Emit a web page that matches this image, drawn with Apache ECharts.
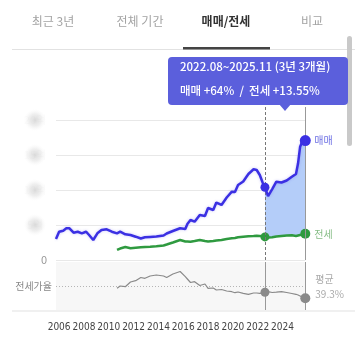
<!DOCTYPE html>
<html><head><meta charset="utf-8">
<script src="https://cdn.jsdelivr.net/npm/echarts@6/dist/echarts.min.js"></script>
<style>html,body{margin:0;padding:0;background:#fff}#c{width:364px;height:343px}</style>
</head><body><div id="c"></div>
<script>
// ---- data ----
const months = ['2005.10','2006.01','2006.05','2006.08','2006.11','2007.03','2007.07','2007.11','2008.03','2008.06',
  '2008.10','2009.02','2009.06','2009.11','2010.04','2010.09','2010.12','2011.05','2011.10','2012.03',
  '2012.08','2012.12','2013.05','2013.11','2014.06','2014.09','2015.03','2015.10','2016.03','2016.05',
  '2016.08','2016.12','2017.05','2017.10','2018.01','2018.06','2018.09','2019.02','2019.07','2019.12',
  '2020.03','2020.06','2020.11','2021.04','2021.09','2021.12','2022.03','2022.06','2022.08','2022.11',
  '2023.03','2023.07','2023.12','2024.05','2024.10','2025.02','2025.04','2025.06','2025.08','2025.11'];
// 매매 (sale price)
const saleValues = [3.0,4.04,4.19,4.53,4.53,3.9,4.04,3.81,4.04,3.57,
  2.86,3.81,4.29,4.39,4.04,3.81,4.04,3.67,3.57,3.33,
  3.07,3.24,3.3,3.36,3.5,3.79,4.14,4.53,4.43,5.14,
  5.71,5.47,6.43,6.29,7.43,7.14,8.21,7.86,8.93,9.76,
  9.71,10.71,11.21,12.29,12.96,12.86,12.14,10.96,10.4,9.14,
  10.14,11.19,11.07,11.36,11.9,12.29,13.81,16.19,16.9,17.06];
// 전세 (jeonse price)
const jeonseValues = [null,null,null,null,null,null,null,null,null,null,
  null,null,null,null,null,1.43,1.64,1.86,1.67,1.74,
  1.81,1.86,1.9,1.96,2.07,2.21,2.5,2.86,2.64,2.64,
  2.61,2.71,2.86,2.71,2.64,2.71,2.79,2.86,3.0,3.1,
  3.14,3.24,3.33,3.4,3.43,3.46,3.43,3.39,3.3,3.21,
  3.24,3.36,3.43,3.5,3.53,3.43,3.5,3.57,3.6,3.75];
// 전세가율 (%)
const ratioValues = [null,null,null,null,null,null,null,null,null,null,
  null,null,null,null,null,37.7,40,39.3,44,45.3,
  48.5,47.7,50,51,50,48.5,52,54.5,49.3,47,
  43.5,44.3,40.5,42,37.7,38,36,36.5,35,34.3,
  33.3,34,32.7,31.7,33,33,32.7,33,33.7,34.3,
  33.5,33.8,34.3,33.5,32.5,31.7,31,30,29,27.7];
const avgRatio = 39.3;
const tabLabels = ['최근 3년','전체 기간','매매/전세','비교'];
const activeTab = 2;
const yearTicks = [2006,2008,2010,2012,2014,2016,2018,2020,2022,2024];
const yTicks = [0,5,10,15,20];
const yTickLabels = ['0','5억','10억','15억','20억'];
const rangeStart = '2022.08', rangeEnd = '2025.11';
const tooltipLines = ['2022.08~2025.11 (3년 3개월)', '매매 +64%  /  전세 +13.55%'];
const seriesNames = ['매매','전세','전세가율'];

// ---- build ----
const toYear = s => { const p = s.split('.').map(Number); return p[0] + (p[1]-1)/12; };
const xs = months.map(toYear);
const iStart = months.indexOf(rangeStart), iEnd = months.indexOf(rangeEnd);
const xStartSel = xs[iStart], xEndSel = xs[iEnd];
const pairs = arr => xs.map((x,i)=> arr[i]==null ? null : [x, arr[i]]).filter(v=>v);
const sizeFn = (big, small) => (v) => {
  const x = v[0];
  if (Math.abs(x - xEndSel) < 1e-6) return big;
  if (Math.abs(x - xStartSel) < 1e-6) return small;
  return 0;
};
const bandData = [];
for (let i = iStart; i <= iEnd; i++) bandData.push([xs[i], saleValues[i], jeonseValues[i]]);

const KR = "'Noto Sans CJK KR','Noto Sans',sans-serif";
const NARROW = "'DejaVu Sans Condensed','Liberation Sans',sans-serif";
const xMin = xs[0], xMax = xs[xs.length-1];
const upperTop = 107, upperBottomPx = 260, gridValTopPx = 120;
const yTop = yTicks[yTicks.length-1];
const yMaxUpper = yTop * (upperBottomPx - upperTop) / (upperBottomPx - gridValTopPx);

const chart = echarts.init(document.getElementById('c'), null, {renderer:'canvas'});
const tabCenters = [53,140,226,312];
const graphics = [];
tabLabels.forEach((t,i)=>{
  graphics.push({type:'text', x:tabCenters[i], y:21, z:10, style:{text:t, align:'center', verticalAlign:'middle',
    font: (i===activeTab ? 'bold ' : '') + '12px ' + KR, fill: i===activeTab ? '#333' : '#a3a3a3'}});
});
graphics.push({type:'rect', z:9, shape:{x:12,y:49,width:343,height:1}, style:{fill:'#e2e2e2'}});
graphics.push({type:'rect', z:10, shape:{x:183,y:47,width:87,height:2.5}, style:{fill:'#444'}});
graphics.push({type:'rect', z:10, shape:{x:347,y:36,width:5,height:110,r:2.5}, style:{fill:'#c9c9c9'}});
graphics.push({type:'rect', z:9, shape:{x:12,y:310.5,width:343,height:1}, style:{fill:'#e2e2e2'}});
graphics.push({type:'rect', z:20, shape:{x:168,y:57,width:180,height:48,r:4}, style:{fill:'#5b5fdc'}});
graphics.push({type:'polygon', z:20, shape:{points:[[279,104],[291,104],[285,111]]}, style:{fill:'#5b5fdc'}});
graphics.push({type:'text', z:21, x:180, y:67, style:{text:tooltipLines[0], verticalAlign:'middle', font:'500 11.5px '+KR, fill:'#fff'}});
graphics.push({type:'text', z:21, x:180, y:91, style:{text:tooltipLines[1], verticalAlign:'middle', font:'500 11.5px '+KR, fill:'#fff'}});

const blob = new echarts.graphic.RadialGradient(0.5, 0.5, 0.5, [
  {offset:0, color:'rgba(214,214,214,0.9)'},
  {offset:0.55, color:'rgba(228,228,228,0.6)'},
  {offset:1, color:'rgba(245,245,245,0)'}
]);

const option = {
  animation:false,
  backgroundColor:'#fff',
  grid:[
    {left:56, right:364-305.3, top:upperTop, height:upperBottomPx-upperTop},
    {left:56, right:364-305.3, top:262, height:48, show:true, backgroundColor:'#f7f7f7', borderWidth:0},
    {left:56, right:364-305.3, top:gridValTopPx, height:upperBottomPx-gridValTopPx}
  ],
  xAxis:[
    {type:'value', gridIndex:0, min:xMin, max:xMax, show:false, splitLine:{show:false}},
    {type:'value', gridIndex:1, min:xMin, max:xMax, axisLine:{show:false}, axisTick:{show:false},
     splitLine:{show:false},
     axisLabel:{customValues:yearTicks, formatter:v=>String(Math.round(v)), color:'#444', fontSize:10,
       fontFamily:NARROW, margin:12, hideOverlap:false, showMinLabel:true, showMaxLabel:true}},
    {type:'value', gridIndex:2, min:xMin, max:xMax, show:false, splitLine:{show:false}}
  ],
  yAxis:[
    {type:'value', gridIndex:0, min:0, max:yMaxUpper, show:false, splitLine:{show:false}},
    {type:'value', gridIndex:1, min:16, max:64, show:false, splitLine:{show:false}},
    {type:'value', gridIndex:2, min:0, max:yTop, interval:5, axisLine:{show:false}, axisTick:{show:false},
     splitLine:{show:true, lineStyle:{color:'#e8e8e8', width:1}},
     axisLabel:{margin:9, formatter:v=>{
        const k = yTicks.indexOf(v); if (k<0) return '';
        return k===0 ? '{z|0}' : '{b|'+yTickLabels[k]+'}'; },
       rich:{z:{color:'#999', fontSize:11, fontFamily:KR},
             b:{color:'rgba(200,200,200,0.08)', fontSize:11, fontFamily:KR, width:24, height:22, align:'center',
                backgroundColor:blob}}}}
  ],
  graphic: graphics,
  series:[
    {type:'line', name:'marks', xAxisIndex:0, yAxisIndex:0, data:pairs(saleValues), symbol:'none', silent:true, z:1,
     lineStyle:{width:0, opacity:0},
     markLine:{silent:true, symbol:'none', label:{show:false}, animation:false,
       data:[
         {xAxis:xStartSel, lineStyle:{color:'#777', width:1, type:[3,2], opacity:1}},
         {xAxis:xEndSel, lineStyle:{color:'#999', width:1, type:'solid', opacity:1}}
       ]}},
    {type:'custom', name:'band', xAxisIndex:0, yAxisIndex:0, data:bandData, silent:true, z:2,
     renderItem:(params, api)=>{
       if (params.dataIndex !== 0) return null;
       const top = bandData.map(d=>api.coord([d[0], d[1]]));
       const bot = bandData.map(d=>api.coord([d[0], d[2]])).reverse();
       return {type:'polygon', shape:{points:top.concat(bot)}, style:{fill:'#b4cdf9'}};
     }},
    {type:'line', name:seriesNames[1], xAxisIndex:0, yAxisIndex:0, data:pairs(jeonseValues), z:4,
     symbol:'circle', symbolSize:sizeFn(10,9), showSymbol:true, itemStyle:{color:'#2f9a40'},
     lineStyle:{color:'#2f9a40', width:2.5},
     endLabel:{show:true, formatter:seriesNames[1], color:'#86bd86', fontSize:10, fontFamily:KR, distance:9}},
    {type:'line', name:seriesNames[0], xAxisIndex:0, yAxisIndex:0, data:pairs(saleValues), z:5,
     symbol:'circle', symbolSize:sizeFn(11,9), showSymbol:true, itemStyle:{color:'#3b30e3'},
     lineStyle:{color:'#3b30e3', width:2.5, shadowColor:'rgba(90,80,240,0.3)', shadowBlur:3},
     endLabel:{show:true, formatter:seriesNames[0], color:'#6f72e4', fontSize:10, fontFamily:KR, distance:9}},
    {type:'line', name:seriesNames[2], xAxisIndex:1, yAxisIndex:1, data:pairs(ratioValues), z:5,
     symbol:'circle', symbolSize:sizeFn(10,9), showSymbol:true, itemStyle:{color:'#8a8a8a'},
     lineStyle:{color:'#8a8a8a', width:1.2},
     markLine:{silent:true, symbol:'none', animation:false,
       data:[
         {yAxis:avgRatio, lineStyle:{color:'#b5b5b5', width:1, type:[1,2]},
          label:{show:true, position:'start', formatter:seriesNames[2], color:'#888', fontSize:10, fontFamily:KR, distance:4}},
         {yAxis:avgRatio, lineStyle:{color:'rgba(0,0,0,0)', width:0},
          label:{show:true, position:'end', formatter:'평균\n'+avgRatio+'%', color:'#aaa', fontSize:10, lineHeight:15, fontFamily:KR, distance:10, padding:[11,0,0,0]}},
         {xAxis:xStartSel, label:{show:false}, lineStyle:{color:'#999', width:1, type:'solid'}},
         {xAxis:xEndSel, label:{show:false}, lineStyle:{color:'#999', width:1, type:'solid'}}
       ]}}
  ]
};
chart.setOption(option);
</script></body></html>
